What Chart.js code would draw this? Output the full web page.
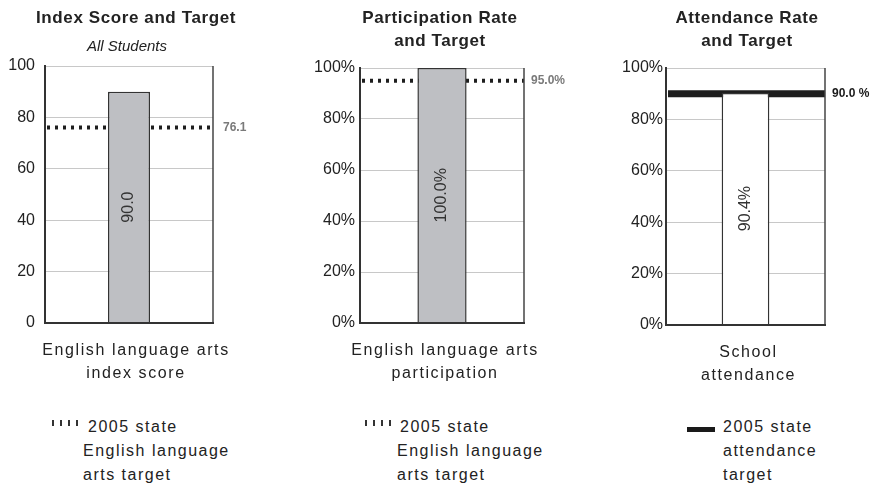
<!DOCTYPE html>
<html>
<head>
<meta charset="utf-8">
<script src="https://cdn.jsdelivr.net/npm/chart.js@4.4.1/dist/chart.umd.min.js"></script>
<style>
  body { margin: 0; background: #fff; }
  #wrap { position: relative; width: 871px; height: 486px; overflow: hidden; font-family: "Liberation Sans", Arial, sans-serif; color: #222; }
  canvas { position: absolute; top: 0; }
  .title { position: absolute; width: 300px; text-align: center; font-weight: bold; font-size: 17px; line-height: 23px; letter-spacing: 0.6px; }
  .sub { position: absolute; width: 300px; text-align: center; font-style: italic; font-size: 15px; line-height: 23px; }
  .legend { position: absolute; top: 415px; font-size: 16px; line-height: 24px; letter-spacing: 1.5px; white-space: nowrap; }
  .sym { position: absolute; }
  .dots { top: 420px; width: 27px; height: 6px; background: repeating-linear-gradient(90deg, #333 0 2.5px, transparent 2.5px 8px); }
  .solid { top: 427px; width: 28px; height: 5px; background: #1a1a1a; }
</style>
</head>
<body>
<div id="wrap">
  <canvas id="c1" width="290" height="400" style="left:0"></canvas>
  <canvas id="c2" width="290" height="400" style="left:290px"></canvas>
  <canvas id="c3" width="291" height="400" style="left:580px"></canvas>

  <div class="title" style="left:-14px;top:6px">Index Score and Target</div>
  <div class="sub" style="left:-23px;top:34px">All Students</div>
  <div class="title" style="left:290px;top:6px">Participation Rate<br>and Target</div>
  <div class="title" style="left:597px;top:6px">Attendance Rate<br>and Target</div>

  <div class="sym dots" style="left:52px"></div>
  <div class="legend" style="left:83px;text-indent:5px">2005 state<br><span style="display:inline-block;text-indent:0">English language<br>arts target</span></div>
  <div class="sym dots" style="left:365px"></div>
  <div class="legend" style="left:397px;text-indent:3px">2005 state<br><span style="display:inline-block;text-indent:0">English language<br>arts target</span></div>
  <div class="sym solid" style="left:687px"></div>
  <div class="legend" style="left:723px">2005 state<br>attendance<br>target</div>
</div>
<script>
// values
const categories = [
  ['English language arts', 'index score'],
  ['English language arts', 'participation'],
  ['School', 'attendance']
];
const schoolValues = [90.0, 100.0, 90.4];
const valueLabels = ['90.0', '100.0%', '90.4%'];
const stateTargets = [76.1, 95.0, 90.0];
const targetLabels = ['76.1', '95.0%', '90.0 %'];
const yTicks = [0, 20, 40, 60, 80, 100];
const percentAxis = [false, true, true];

// layout of each panel (pixels inside its canvas)
const panels = [
  { id: 'c1', axisW: 45, padR: 77, padT: 66, xH: 77, tickPad: 10, barPct: 0.25, labelShift: 7, fill: '#bebfc3', solid: false, gap: 10, labelColor: '#7a7a7a' },
  { id: 'c2', axisW: 70, padR: 56, padT: 68, xH: 77, tickPad: 5, barPct: 0.30, labelShift: 3, fill: '#bebfc3', solid: false, gap: 7, labelColor: '#7a7a7a' },
  { id: 'c3', axisW: 86, padR: 46, padT: 68, xH: 75, tickPad: 3, barPct: 0.30, labelShift: 3, fill: '#ffffff', solid: true, gap: 7, labelColor: '#1a1a1a' }
];

Chart.defaults.font.family = '"Liberation Sans", Arial, sans-serif';

const targetPlugin = {
  id: 'target',
  beforeDraw(chart) {
    chart.ctx.letterSpacing = '0px';
  },
  beforeDatasetsDraw(chart, args, o) {
    const { ctx, chartArea: a, scales: { y } } = chart;
    const py = y.getPixelForValue(o.value);
    ctx.save();
    ctx.strokeStyle = '#1e1e1e';
    ctx.lineWidth = o.solid ? 7 : 4;
    ctx.setLineDash(o.solid ? [] : [3, 5]);
    ctx.beginPath();
    ctx.moveTo(a.left + 2, py);
    ctx.lineTo(a.right, py);
    ctx.stroke();
    ctx.restore();
  },
  afterDatasetsDraw(chart, args, o) {
    const { ctx, chartArea: a, scales: { y } } = chart;
    const bar = chart.getDatasetMeta(0).data[0];
    ctx.save();
    // right frame of the plot
    ctx.strokeStyle = '#444';
    ctx.lineWidth = 1.5;
    ctx.beginPath();
    ctx.moveTo(a.right, a.top);
    ctx.lineTo(a.right, a.bottom);
    ctx.stroke();
    // target value at the end of the line
    ctx.font = 'bold 12px "Liberation Sans", Arial, sans-serif';
    ctx.fillStyle = o.labelColor;
    ctx.textBaseline = 'middle';
    ctx.textAlign = 'left';
    ctx.fillText(o.label, a.right + o.gap, y.getPixelForValue(o.value));
    // value written up the bar
    ctx.translate(bar.x, (bar.y + bar.base) / 2);
    ctx.rotate(-Math.PI / 2);
    ctx.font = '16px "Liberation Sans", Arial, sans-serif';
    ctx.fillStyle = '#333';
    ctx.textAlign = 'center';
    ctx.fillText(o.valueLabel, 0, 0);
    ctx.restore();
    // the x labels are drawn after this, with wider spacing
    ctx.letterSpacing = '1.6px';
  }
};

panels.forEach((p, i) => {
  new Chart(document.getElementById(p.id), {
    type: 'bar',
    data: {
      labels: [categories[i]],
      datasets: [{
        data: [schoolValues[i]],
        backgroundColor: p.fill,
        borderColor: '#333',
        borderWidth: 1.5,
        barPercentage: 1,
        categoryPercentage: p.barPct
      }]
    },
    options: {
      responsive: false,
      animation: false,
      events: [],
      layout: { padding: { left: 0, right: p.padR, top: p.padT, bottom: 0 } },
      plugins: {
        legend: { display: false },
        tooltip: { enabled: false },
        target: { value: stateTargets[i], label: targetLabels[i], valueLabel: valueLabels[i], solid: p.solid, gap: p.gap, labelColor: p.labelColor }
      },
      scales: {
        x: {
          grid: { display: false, drawTicks: false },
          border: { color: '#333', width: 2, z: 1 },
          ticks: { z: 1, padding: 16, labelOffset: p.labelShift, color: '#222', maxRotation: 0, font: { size: 16, lineHeight: 1.44 } },
          afterFit: s => { s.height = p.xH; }
        },
        y: {
          min: 0,
          max: 100,
          grid: { color: '#c8c8c8', drawTicks: false },
          border: { color: '#333', width: 2, z: 1 },
          ticks: { padding: p.tickPad, color: '#222', font: { size: 16 }, callback: v => percentAxis[i] ? v + '%' : v },
          afterBuildTicks: s => { s.ticks = yTicks.map(v => ({ value: v })); },
          afterFit: s => { s.width = p.axisW; }
        }
      }
    },
    plugins: [targetPlugin]
  });
});
</script>
</body>
</html>
